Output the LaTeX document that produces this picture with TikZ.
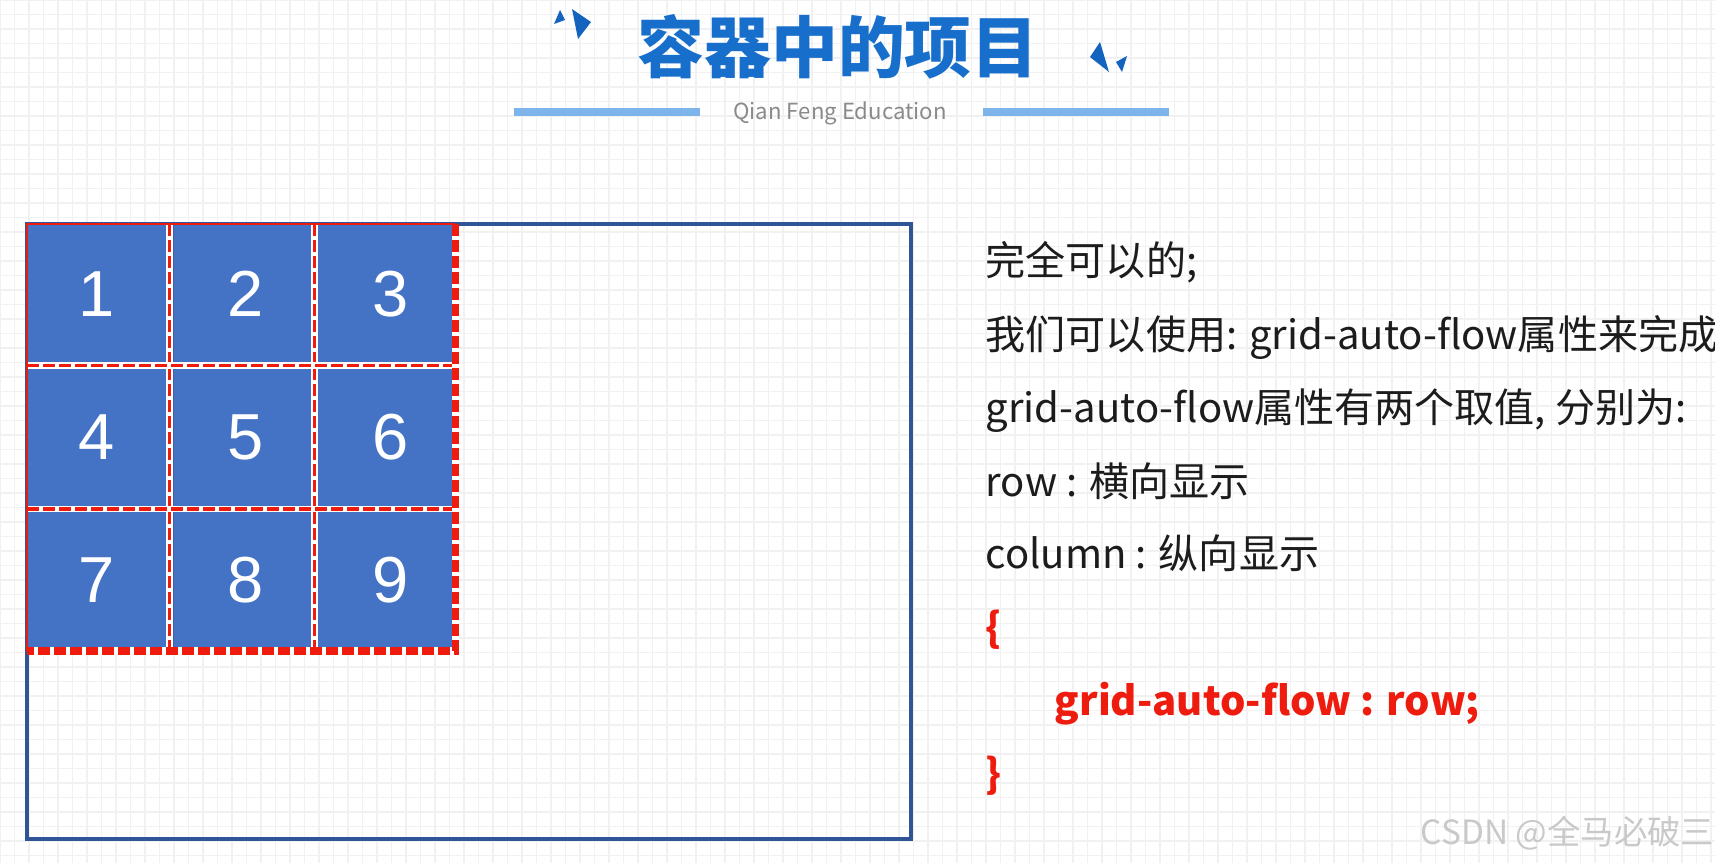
\documentclass[tikz,border=0pt]{standalone}
\usepackage{fontspec}
\setmainfont{Noto Sans CJK SC}
\newfontfamily\digitfont{Liberation Sans}
\usetikzlibrary{positioning}
\definecolor{TitleBlue}{HTML}{176FCB}
\definecolor{Accent}{HTML}{1463BF}
\definecolor{PaleBar}{HTML}{7DB5EA}
\definecolor{CellBlue}{HTML}{4472C4}
\definecolor{Frame}{HTML}{2F5597}
\definecolor{Mark}{HTML}{EE1C0E}
\definecolor{Ink}{HTML}{1C1C1C}
\definecolor{Faint}{HTML}{F1F1F1}
\definecolor{Stamp}{HTML}{C9C9C9}
\definecolor{Slogan}{HTML}{8A8A8A}

\begin{document}
\begin{tikzpicture}[x=0.01cm,y=-0.01cm,
  paper/.style={color=Faint,line width=0.3pt},
  bar/.style={color=PaleBar,line width=2pt},
  cellbox/.style={fill=CellBlue,draw=CellBlue!85!black,line width=0.3pt,
    minimum width=1.38cm,minimum height=1.40cm,inner sep=0pt,text=white,
    font=\digitfont\fontsize{18.5}{18.5}\selectfont},
  track/.style={color=Mark,dash pattern=on 1.2mm off 0.4mm},
  gap/.style={color=white,line width=1.8pt},
  body/.style={anchor=base west,inner sep=0pt,color=Ink,
    font=\fontsize{11.4}{13}\selectfont},
  code/.style={body,color=Mark,font=\fontsize{11.4}{13}\selectfont\bfseries}
]
\useasboundingbox (0,0) rectangle (1715,863);
\fill[white] (0,0) rectangle (1715,863);
% Squared paper.
\foreach \x in {0,14.5,...,1715}
  \draw[paper] (\x,0)--(\x,863);
\foreach \y in {0,14.5,...,863}
  \draw[paper] (0,\y)--(1715,\y);

% Heading.
\node[font=\fontsize{19}{19}\selectfont\bfseries,text=TitleBlue] (title) at (838,47) {容器中的项目};
\fill[Accent] (560,10)--(565,20)--(554,24)--cycle;
\fill[Accent] (572,9)--(591,22)--(578,39)--cycle;
\fill[Accent] (1100,42)--(1090,57)--(1109,72)--cycle;
\fill[Accent] (1116,62)--(1127,56)--(1122,72)--cycle;
\node[font=\fontsize{6.3}{7}\selectfont,text=Slogan] (slogan) at (840,113) {Qian Feng Education};
\draw[bar] (514,112)--(700,112);
\draw[bar] (983,112)--(1169,112);

% Container and its items.
\draw[Frame,line width=1pt] (27,224) rectangle (911,839);
\foreach \y [count=\r from 0] in {294,437,580}
  \foreach \x/\dx [count=\c from 1] in {97/0cm,243/0.06cm,385/0.12cm} {
    \pgfmathtruncatemacro\n{3*\r+\c}
    \node[cellbox] (c\n) at (\x,\y) {\hspace*{\dx}\n};
  }
\foreach \x in {169.5,314.5} {
  \draw[gap] (\x,224)--(\x,651);
  \draw[track,line width=1pt] (\x,224)--(\x,651);
}
\foreach \y in {365.5,509} {
  \draw[gap] (27,\y)--(455,\y);
  \draw[track,line width=1pt] (27,\y)--(455,\y);
}
\draw[white,line width=2pt] (455.5,224)--(455.5,651)--(27,651);
\draw[track,line width=2pt] (455.5,224)--(455.5,651)--(27,651);
\draw[Mark,line width=0.6pt] (27,651)--(27,224)--(455,224);

% Notes.
\node[body] (l1) at (985,275) {完全可以的;};
\node[body] (l2) at (985,349) {我们可以使用: grid-auto-flow属性来完成};
\node[body] (l3) at (985,422) {grid-auto-flow属性有两个取值, 分别为:};
\node[body] (l4) at (985,496) {row : 横向显示};
\node[body] (l5) at (985,568) {column : 纵向显示};
\node[code] (l6) at (985,642) {\{};
\node[code] (l7) at (1054,715) {grid-auto-flow : row;};
\node[code] (l8) at (985,788) {\}};

\node[anchor=west,inner sep=0pt,text=Stamp,font=\fontsize{9.5}{10}\selectfont] (stamp) at (1420,833) {CSDN @全马必破三};
\end{tikzpicture}
\end{document}
